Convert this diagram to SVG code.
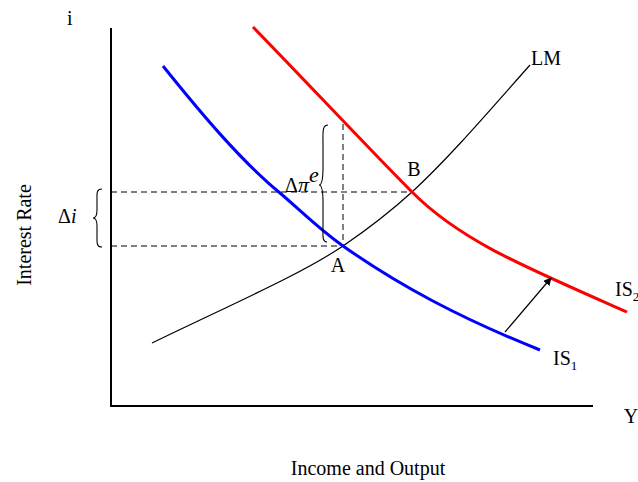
<svg xmlns="http://www.w3.org/2000/svg" width="638" height="482" viewBox="0 0 638 482">
<defs>
<marker id="ah" viewBox="0 0 10 10" refX="9" refY="5" markerWidth="8" markerHeight="8" markerUnits="userSpaceOnUse" orient="auto">
<path d="M0,0 L10,5 L0,10 z" fill="#000"/>
</marker>
<style>
text{font-family:"Liberation Serif","Times New Roman",serif;font-size:20px;fill:#000}
.ax{stroke:#000;stroke-width:2;fill:none}
.dash{stroke:#000;stroke-width:1;stroke-dasharray:6,4;fill:none}
.br{stroke:#000;stroke-width:1.1;fill:none}
.it{font-style:italic}
</style>
</defs>
<g id="axes">
<path class="ax" d="M111,28 L111,406 L593,406"/>
<text x="67" y="25">i</text>
<text x="631" y="423" text-anchor="middle">Y</text>
<text x="368" y="475" text-anchor="middle">Income and Output</text>
<text transform="translate(31,235) rotate(-90)" text-anchor="middle">Interest Rate</text>
</g>
<g id="guides">
<path class="dash" d="M111,192 L412,192 M111,246 L343,246 M343,124 L343,246"/>
</g>
<g id="LM">
<path d="M152,343 C230,305 300,275 343,246 C365,231 390,212 412,192 C450,157 490,110 530,65" stroke="#000" stroke-width="1.2" fill="none"/>
<text x="531" y="65">LM</text>
</g>
<g id="IS1">
<path d="M163,66 C200,112 240,160 280,193 C300,210 320,230 343,246 C400,286 460,318 540,350" stroke="#0000ff" stroke-width="3" fill="none"/>
<text x="553" y="365">IS<tspan font-size="13" dy="5">1</tspan></text>
</g>
<g id="IS2">
<path d="M253,27 C300,75 370,150 412,192 C460,240 520,265 627,312" stroke="#ff0000" stroke-width="3" fill="none"/>
<text x="615" y="296">IS<tspan font-size="13" dy="5">2</tspan></text>
</g>
<g id="pointA"><text x="338" y="272" text-anchor="middle">A</text></g>
<g id="pointB"><text x="414" y="176" text-anchor="middle">B</text></g>
<g id="deltai">
<path class="br" d="M102,189 C96,189 97,194 97,200 L97,210 C97,215 96,218 93,218 C96,218 97,221 97,226 L97,236 C97,242 96,247 102,247"/>
<text x="58" y="223">Δ<tspan class="it">i</tspan></text>
</g>
<g id="deltapi">
<path class="br" d="M328,125 C322,125 323,133 323,143 L323,168 C323,178 322,185 319,185 C322,185 323,192 323,202 L323,226 C323,236 322,242 327,242"/>
<text x="285" y="192">Δ<tspan class="it" font-size="22">π</tspan><tspan class="it" font-size="22" dy="-10">e</tspan></text>
</g>
<g id="connectors">
<path d="M505,332 L551,278" stroke="#000" stroke-width="1.2" fill="none" marker-end="url(#ah)"/>
</g>
</svg>
